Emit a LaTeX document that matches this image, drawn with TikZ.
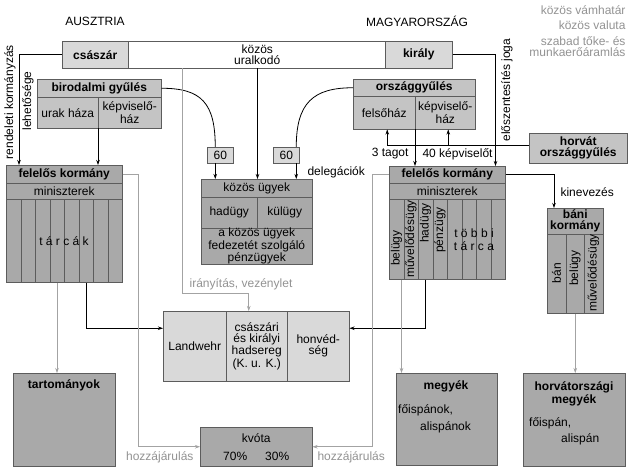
\documentclass[tikz,border=0pt]{standalone}
\usepackage{fontspec}
\setmainfont{Liberation Sans}
\usetikzlibrary{arrows.meta}
\definecolor{lightgr}{HTML}{D9D9D9}
\definecolor{midgr}{HTML}{C4C4C4}
\definecolor{darkgr}{HTML}{A9A9A9}
\definecolor{framegr}{HTML}{5C5C5C}
\definecolor{linegr}{HTML}{A3A3A3}
\definecolor{notegr}{HTML}{939393}
\newcommand{\alap}{\fontsize{12}{11}\selectfont}
\newcommand{\nyolcOszlop}[4]{\foreach \i in {1,...,8}
	\node[oszlop, minimum height=#4pt] (#1\i) at ({#2+(\i-1)*14.5},#3) {};}

\begin{document}
\begin{tikzpicture}[x=1pt,y=-1pt,font=\alap,
		doboz/.style={draw=framegr,line width=0.5pt,inner sep=1pt,align=center,anchor=north west},
		vastag/.style={font=\alap\bfseries},
		oszlop/.style={doboz,fill=darkgr,minimum width=14.5pt},
		nyil/.style={-{Stealth[length=5pt,width=3.5pt]},line width=0.8pt},
		szurkenyil/.style={draw=linegr,line width=0.6pt,-{Stealth[length=5pt,width=3.5pt]}},
		megj/.style={text=notegr}]
		\fill[white] (0,0) rectangle (632,473);
		\useasboundingbox (0,0) rectangle (632,473);

		\node (ausztria) at (95,21) {AUSZTRIA};
		\node (magyar) at (417,21) {MAGYARORSZÁG};
		\node[megj,anchor=east] (vamhatar) at (629,10) {közös vámhatár};
		\node[megj,anchor=east] (valuta) at (629,25) {közös valuta};
		\node[megj,anchor=east,align=right] (szabad) at (629,47) {szabad tőke- és\\munkaerőáramlás};

		\begin{scope}
			\node[doboz,fill=white,minimum width=390pt,minimum height=27pt] (uralkodo) at (62,41) {közös\\uralkodó};
			\node[doboz,fill=lightgr,vastag,minimum width=66pt,minimum height=27pt] (csaszar) at (62,41) {császár};
			\node[doboz,fill=lightgr,vastag,minimum width=67pt,minimum height=27pt] (kiraly) at (385,41) {király};

			\node[doboz,fill=midgr,vastag,minimum width=124pt,minimum height=18pt] (birod) at (37,79) {birodalmi gyűlés};
			\node[doboz,fill=midgr,minimum width=61pt,minimum height=31pt] (urak) at (37,97) {urak háza};
			\node[doboz,fill=midgr,minimum width=63pt,minimum height=31pt] (kepvA) at (98,97) {képviselő-\\ház};

			\node[doboz,fill=midgr,vastag,minimum width=122pt,minimum height=17pt] (orszgy) at (353,79) {országgyűlés};
			\node[doboz,fill=midgr,minimum width=62pt,minimum height=33pt] (felsohaz) at (353,96) {felsőház};
			\node[doboz,fill=midgr,minimum width=60pt,minimum height=33pt] (kepvB) at (415,96) {képviselő-\\ház};

			\node[doboz,fill=midgr,vastag,minimum width=98pt,minimum height=30pt] (horvat) at (529,133) {horvát\\országgyűlés};

			\node[doboz,fill=lightgr,minimum width=26pt,minimum height=16pt] (hatvanA) at (207,147) {60};
			\node[doboz,fill=lightgr,minimum width=26pt,minimum height=16pt] (hatvanB) at (273,147) {60};

			\node[doboz,fill=darkgr,minimum width=111pt,minimum height=18pt] (ugyek) at (201,179) {közös ügyek};
			\node[doboz,fill=darkgr,minimum width=56pt,minimum height=31pt] (hadugy) at (201,197) {hadügy};
			\node[doboz,fill=darkgr,minimum width=55pt,minimum height=31pt] (kulugy) at (257,197) {külügy};
			\node[doboz,fill=darkgr,inner sep=0pt,minimum width=111pt,minimum height=35pt] (penzugy) at (201,228) {a közös ügyek\\fedezetét szolgáló\\pénzügyek};

			\node[doboz,fill=darkgr,vastag,minimum width=116pt,minimum height=18pt] (lkh) at (6,165) {felelős kormány};
			\node[doboz,fill=darkgr,minimum width=116pt,minimum height=16pt] (lkm) at (6,183) {miniszterek};
			\nyolcOszlop{lkc}{6}{199}{83}
			\node (tarcak) at (64,241) {t á r c á k};

			\node[doboz,fill=darkgr,vastag,minimum width=116pt,minimum height=17pt] (rkh) at (389,166) {felelős kormány};
			\node[doboz,fill=darkgr,minimum width=116pt,minimum height=16pt] (rkm) at (389,183) {miniszterek};
			\nyolcOszlop{rkc}{389}{199}{80}
			\node[rotate=90] (rkBel) at (396.5,248) {belügy};
			\node[rotate=90] (rkMuv) at (411,239) {művelődésügy};
			\node[rotate=90] (rkHad) at (425.5,223) {hadügy};
			\node[rotate=90] (rkPenz) at (440,230) {pénzügy};
			\node[align=center] (rkTobbi) at (474,240) {t ö b b i\\[2pt]t á r c a};

			\node[doboz,fill=darkgr,vastag,minimum width=56pt,minimum height=26pt] (banih) at (547,208) {báni\\kormány};
			\node[doboz,fill=darkgr,minimum width=19pt,minimum height=79pt] (bc1) at (547,234) {};
			\node[doboz,fill=darkgr,minimum width=18pt,minimum height=79pt] (bc2) at (566,234) {};
			\node[doboz,fill=darkgr,minimum width=19pt,minimum height=79pt] (bc3) at (584,234) {};
			\node[rotate=90] (bBan) at (556.5,273) {bán};
			\node[rotate=90] (bBel) at (575,268) {belügy};
			\node[rotate=90] (bMuv) at (593.5,273) {művelődésügy};

			\node[doboz,fill=lightgr,minimum width=63pt,minimum height=70pt] (landwehr) at (163,311) {Landwehr};
			\node[doboz,fill=lightgr,minimum width=61pt,minimum height=70pt] (kuk) at (226,311) {császári\\és királyi\\hadsereg\\(K. u. K.)};
			\node[doboz,fill=lightgr,minimum width=62pt,minimum height=70pt] (honved) at (287,311) {honvéd-\\ség};

			\node[doboz,fill=darkgr,minimum width=112pt,minimum height=39pt] (kvota) at (200,427) {kvóta\\[7pt]70\%\hspace{18pt}30\%};

			\node[doboz,fill=darkgr,minimum width=102pt,minimum height=93pt] (tartomanyok) at (13,373) {};
			\node[vastag] (tartomanyokT) at (64,385) {tartományok};
			\node[doboz,fill=darkgr,minimum width=101pt,minimum height=92pt] (megyek) at (396,373) {};
			\node[vastag] (megyekT) at (446,386) {megyék};
			\node[anchor=west,inner sep=1pt] (megyekA) at (397,410) {főispánok,};
			\node[anchor=west,inner sep=1pt] (megyekB) at (419,427) {alispánok};
			\node[doboz,fill=darkgr,minimum width=102pt,minimum height=93pt] (hmegyek) at (523,373) {};
			\node[vastag,align=center] (hmegyekT) at (574,394) {horvátországi\\megyék};
			\node[anchor=west,inner sep=1pt] (hmegyekA) at (528,423) {főispán,};
			\node[anchor=west,inner sep=1pt] (hmegyekB) at (560,439) {alispán};
		\end{scope}

		\node[rotate=90] (rendeleti) at (10,102) {rendeleti kormányzás};
		\node[rotate=90] (lehetosege) at (28,101) {lehetősége};
		\node[rotate=90] (eloszent) at (507,90) {előszentesítés joga};
		\node[anchor=west] (delegaciok) at (304,172) {delegációk};
		\node[megj] (iranyitas) at (241,284) {irányítás, vezénylet};
		\node[megj,anchor=east] (hozzaA) at (197,457) {hozzájárulás};
		\node[megj,anchor=west] (hozzaB) at (314,457) {hozzájárulás};
		\node[anchor=east] (tagot) at (412,154) {3 tagot};
		\node[anchor=west] (negyven) at (419,154) {40 képviselőt};
		\node[anchor=west] (kinevezes) at (557,192) {kinevezés};

		\begin{scope}[line width=0.8pt]
			\draw[nyil] (csaszar.west) -| ([xshift=13pt]lkh.north west);
			\draw[nyil] (kepvA.south west) -- (kepvA.south west |- lkh.north);
			\draw (birod.east) .. controls +(40,0) and +(0,-44) .. ([xshift=-5pt]hatvanA.north);
			\draw (orszgy.west) .. controls +(-40,0) and +(0,-44) .. ([xshift=10pt]hatvanB.north);
			\draw[nyil] ([xshift=-5pt]hatvanA.south) -- ([xshift=-5pt]hatvanA.south |- ugyek.north);
			\draw[nyil] ([xshift=10pt]hatvanB.south) -- ([xshift=10pt]hatvanB.south |- ugyek.north);
			\draw[nyil] (uralkodo.south -| hadugy.east) -- (hadugy.east |- ugyek.north);
			\draw[nyil] (kiraly.east) -| ([xshift=-10pt]rkh.north east);
			\draw[nyil] (kepvB.south west) -- (kepvB.south west |- rkh.north);
			\coordinate (horvatBe) at ([yshift=3pt]horvat.west);
			\draw[nyil,line width=0.6pt] (horvatBe) -| ([xshift=3pt]felsohaz.south);
			\draw[nyil,line width=0.6pt] ([xshift=3pt]kepvB.south |- horvatBe) -- ([xshift=3pt]kepvB.south);
			\draw[nyil] (rkh.east) -| ([xshift=7pt]banih.north west);
			\draw[nyil] (lkc6.south) |- ([yshift=18pt]landwehr.west);
			\draw[nyil] (rkc3.south) |- ([yshift=18pt]honved.east);
		\end{scope}
		\begin{scope}
			\draw[szurkenyil] ([xshift=120pt]uralkodo.south west) |- ([xshift=-8pt,yshift=18pt]kuk.north) -- ([xshift=-8pt]kuk.north);
			\draw[szurkenyil] (lkh.east) -- ++(16,0) |- (kvota.west);
			\draw[szurkenyil] (rkh.west) -- ++(-17,0) |- (kvota.east);
			\draw[szurkenyil] (lkc4.south) -- (lkc4.south |- tartomanyok.north);
			\draw[szurkenyil] ([xshift=5pt]rkc1.south) -- ([xshift=5pt]rkc1.south |- megyek.north);
			\draw[szurkenyil] (bc2.south) -- (bc2.south |- hmegyek.north);
		\end{scope}
	\end{tikzpicture}
\end{document}
